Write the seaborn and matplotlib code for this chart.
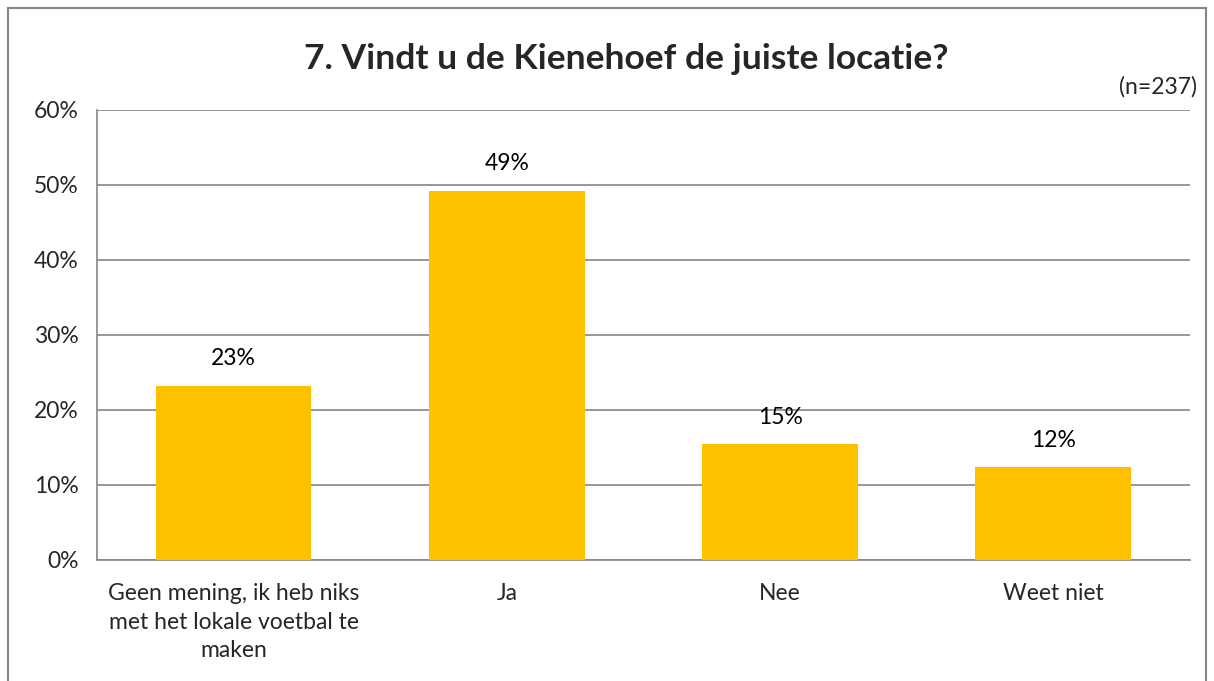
import matplotlib
matplotlib.use("Agg")
import matplotlib.pyplot as plt
import seaborn as sns
import pandas as pd
from matplotlib.patches import Rectangle

# data
categories = ["Geen mening, ik heb niks\nmet het lokale voetbal te\nmaken", "Ja", "Nee", "Weet niet"]
values = [23.2, 49.2, 15.4, 12.3]
labels = ["23%", "49%", "15%", "12%"]
yticks = [0, 10, 20, 30, 40, 50, 60]

sns.set_style("white")
plt.rcParams['font.family'] = ['Lato', 'DejaVu Sans']

df = pd.DataFrame({"cat": categories, "val": values})

fig = plt.figure(figsize=(12.14, 6.81), dpi=100)
ax = fig.add_axes([0.0799, 0.1784, 0.9003, 0.6601])

sns.barplot(data=df, x="cat", y="val", color="#FFC000", saturation=1,
            width=0.57, linewidth=0, ax=ax, zorder=3)

# value labels above bars
for i, (v, lab) in enumerate(zip(values, labels)):
    ax.text(i, v + 2.2, lab, ha="center", va="bottom", fontsize=16.5, color="black")

ax.set_ylim(0, 60)
ax.set_xlim(-0.5, 3.5)
ax.set_yticks(yticks)
ax.set_yticklabels([f"{t}%" for t in yticks], fontsize=16.5)
ax.set_xticks(range(len(categories)))
ax.set_xticklabels(categories, fontsize=16.5, linespacing=1.45)
ax.set_xticks([-0.5, 0.5, 1.5, 2.5, 3.5], minor=True)
ax.tick_params(axis="x", which="major", length=0, pad=17)
ax.tick_params(axis="x", which="minor", length=7, color="#868686", width=1.2)
ax.tick_params(axis="y", length=7, color="#868686", width=1.2, pad=6)
ax.set_xlabel("")
ax.set_ylabel("")

ax.yaxis.grid(True, color="#868686", linewidth=1.2, zorder=0)
ax.set_axisbelow(True)
for s in ["top", "right"]:
    ax.spines[s].set_visible(False)
for s in ["left", "bottom"]:
    ax.spines[s].set_color("#868686")
    ax.spines[s].set_linewidth(1.2)

fig.text(0.516, 0.913, "7. Vindt u de Kienehoef de juiste locatie?", ha="center", va="center",
         fontsize=25.5, fontweight="bold")
fig.text(0.986, 0.872, "(n=237)", ha="right", va="center", fontsize=16.5)

# chart border
fig.patches.append(Rectangle((0.007, -0.02), 0.986, 1.008, transform=fig.transFigure,
                             fill=False, edgecolor="#868686", linewidth=1.5))

plt.savefig("out.png", dpi=100)
